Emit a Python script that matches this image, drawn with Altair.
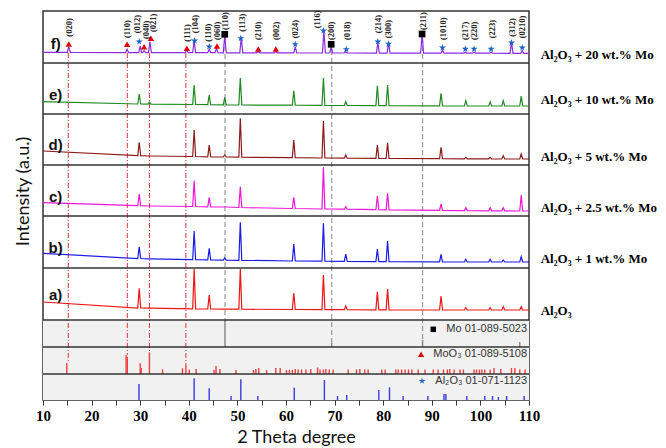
import altair as alt
import pandas as pd

# ---------------- axes / layout ----------------
X_DOMAIN = [10, 110]
Y_DOMAIN = [0, 389]          # stacked panels, 1 unit ~ 1 px
X_TICKS = list(range(10, 111, 5))

PANELS = ["f", "e", "d", "c", "b", "a", "Mo", "MoO3", "Al2O3"]
PANEL_BOTTOM = [337, 286, 235, 184, 132, 80, 53, 26, 0]
PANEL_TOP = [389, 337, 286, 235, 184, 132, 80, 53, 26]
BOTTOM = dict(zip(PANELS, PANEL_BOTTOM))

# ---------------- sample patterns ----------------
SAMPLES = ["f", "e", "d", "c", "b", "a"]
SAMPLE_COLORS = ["#8a2be2", "#1f8a1f", "#8b1a1a", "#ee14d8", "#1a1ae6", "#f01414"]
SAMPLE_NAMES = ["Al₂O₃ + 20 wt.% Mo", "Al₂O₃ + 10 wt.% Mo", "Al₂O₃ + 5 wt.% Mo",
                "Al₂O₃ + 2.5 wt.% Mo", "Al₂O₃ + 1 wt.% Mo", "Al₂O₃"]
NAME_Y = [345, 300, 243, 192, 141, 89]
LETTER_Y = [356, 305, 255, 203, 152, 105]

# peak positions shared by samples a-e (2theta)
AL_POS = [29.8, 31.9, 41.1, 44.2, 47.4, 50.6, 61.6, 67.7, 72.3, 78.8, 80.9, 91.9, 97.0, 102.0, 104.7, 108.4]

A_START, A_END = 18, 10
A_FOOT = [12, 11.8, 11.2, 11, 10.9, 10.8, 10.5, 10.4, 10.3, 10.2, 10.2, 10, 10, 10, 10, 10]
A_TOP = [31.7, 11.8, 51, 25, 10.9, 51, 27, 45, 14, 28.3, 31, 24, 12.3, 12.3, 13.3, 13.3]

B_START, B_END = 14.7, 6
B_FOOT = [9.5, 9.2, 8.3, 8.1, 7.9, 7.7, 7, 6.8, 6.6, 6.4, 6.3, 6.2, 6, 6, 6, 6]
B_TOP = [21.3, 9.2, 37, 19.7, 10, 45.7, 24, 44.7, 14, 19, 27, 13.7, 8.7, 8.7, 8, 11.3]

C_START, C_END = 13.3, 5
C_FOOT = [10.3, 10, 9.5, 9.2, 9, 8.5, 7.5, 7, 6.8, 6.3, 6.1, 5.6, 5.4, 5.2, 5.1, 5]
C_TOP = [22, 10, 35.3, 18.7, 9, 29.3, 18.7, 48.7, 9.3, 20, 22.7, 12, 8.3, 8.3, 8.3, 21]

D_START, D_END = 14, 6
D_FOOT = [9.3, 9, 8.5, 8.2, 8, 7.8, 7.3, 7, 6.8, 6.6, 6.5, 6.3, 6.2, 6.1, 6, 6]
D_TOP = [22.7, 9, 35, 20, 10, 46.7, 25, 44, 10, 20, 22.3, 17.7, 7.7, 7.7, 9.3, 11]

E_START, E_END = 12.3, 8
E_FOOT = [10, 9.8, 9.5, 9.3, 9.2, 9, 8.8, 8.6, 8.5, 8.3, 8.3, 8.1, 8, 8, 8, 8]
E_TOP = [20, 12, 29, 19, 16.7, 36, 23.3, 36, 12.3, 28.3, 29, 20.7, 13.3, 12, 13.3, 18]

F_START, F_END = 10.7, 9.7
F_POS = [15.3, 27.3, 30.0, 30.8, 32.0, 39.6, 41.1, 44.2, 45.7, 47.4, 50.8, 54.3, 57.9,
         61.9, 67.8, 69.3, 72.3, 78.9, 81.1, 88.0, 92.2, 96.9, 98.7, 102.2, 106.4, 108.6]
F_FOOT = [10.6, 10.4, 10.4, 10.4, 10.4, 10.3, 10.3, 10.3, 10.3, 10.2, 10.2, 10.2, 10.1,
          10.1, 10, 10, 10, 9.9, 9.9, 9.9, 9.8, 9.8, 9.8, 9.8, 9.7, 9.7]
F_TOP = [16.3, 13.7, 17, 12.5, 21.3, 13, 22.3, 13.7, 14.7, 28, 26.3, 11.5, 11.5,
         16.3, 32, 16, 11.5, 20.3, 20.3, 29, 13, 11, 11, 11, 21.3, 12.5]

PEAK_HALF_WIDTH = 0.3

# ---------------- phase markers in panel f ----------------
TRI_X = [15.3, 27.3, 30.8, 32.2, 39.6, 45.8, 54.3, 57.9]
TRI_H = [19, 18.7, 16.3, 24.7, 14.7, 17, 14, 14]
STAR_X = [29.8, 41.2, 44.2, 50.7, 61.9, 67.7, 72.4, 78.9, 81.1, 92.2, 96.9, 98.7, 102.2, 106.4, 108.6]
STAR_H = [21.3, 22.3, 16.3, 24.7, 18.7, 32.3, 13.7, 21.3, 19, 15.3, 14, 14, 14, 20.3, 15.3]
SQ_X = [47.4, 69.3, 88.0]
SQ_H = [28.7, 18.7, 29]

HKL_TEXT = ["(020)", "(110)", "(012)", "(040)", "(021)", "(111)", "(104)", "(110)", "(060)",
            "(110)", "(113)", "(210)", "(002)", "(024)", "(116)", "(200)", "(018)", "(214)",
            "(300)", "(211)", "(1010)", "(217)", "(220)", "(223)", "(312)", "(0210)"]
HKL_X = [15.3, 27.3, 29.3, 31.2, 32.7, 39.6, 41.3, 44.0, 45.7, 47.45, 50.9, 54.3, 57.9,
         61.85, 66.3, 69.25, 72.5, 78.9, 81.05, 88.1, 92.25, 96.8, 98.75, 102.3, 106.4, 108.5]
HKL_H = [26.3, 25, 29.7, 24, 31, 21.3, 29.7, 21.3, 23, 33, 31.3, 23, 23, 24.7, 34.7, 23,
         23, 29.7, 24.7, 33, 23, 23, 23, 24.7, 26.3, 24.7]

# ---------------- guide lines ----------------
RED_X = [15.2, 27.35, 31.9, 39.4]
RED_Y1 = [347, 347, 347, 347]
RED_Y2 = [37, 45, 48, 36]
GRAY_X = [47.45, 69.4, 88.1]
GRAY_Y1 = [362, 350, 362]
GRAY_Y2 = [78, 53, 60]

# ---------------- reference patterns ----------------
MO_X = [47.45, 69.4, 88.1, 108.1]
MO_H = [26.5, 4, 7, 5]

MOO3_X = [14.9, 27.1, 27.35, 30.0, 30.2, 31.9, 34.6, 38.7, 39.4, 40.1,
          41.5, 45.2, 45.6, 46.4, 49.7, 53.3, 53.8, 54.4, 56.0, 57.9,
          58.8, 60.1, 60.7, 61.3, 61.9, 62.5, 63.2, 64.1, 65.1, 66.5,
          67.0, 67.7, 68.2, 68.9, 69.7, 72.8, 74.5, 75.2, 76.2, 76.9,
          79.7, 80.4, 82.6, 83.1, 83.8, 84.5, 85.2, 85.9, 87.2, 88.6,
          90.3, 91.3, 92.4, 93.2, 93.7, 94.6, 95.8, 96.5, 98.7, 99.2,
          99.8, 100.3, 100.9, 102.0, 102.8, 104.2, 106.4, 107.1, 108.1, 109.2]
MOO3_H = [11, 19, 17, 10.7, 6, 21.7, 4.7, 5.7, 9.7, 4.5,
          5, 4, 8, 5, 4, 4, 5, 6, 4, 6,
          6, 4, 4, 4, 5, 4.5, 4.5, 4.5, 5, 6.5,
          4.5, 4.5, 5, 4.5, 4.5, 4.5, 4.5, 5, 4.5, 4.5,
          4.5, 4.5, 4.5, 4.5, 4.5, 4.5, 4.5, 4.5, 4.5, 4.5,
          4.5, 4.5, 4.5, 4.5, 5, 4.5, 4.5, 4.5, 4.5, 4.5,
          4.5, 4.5, 4.5, 4.5, 6, 5, 6, 6, 4.5, 4.5]

AL_REF_X = [29.75, 41.1, 44.2, 48.7, 50.7, 54.2, 61.7, 67.9, 70.6, 72.5, 79.1,
            81.3, 84.1, 89.2, 92.5, 92.9, 97.2, 100.9, 102.5, 103.7, 105.4, 109.0]
AL_REF_H = [16, 21.7, 11.7, 4, 20.7, 4, 12.3, 20, 4, 5, 10,
            12.7, 4, 4, 6, 6, 4, 4, 4, 3, 4, 4]

LEG_TEXT = ["Mo 01-089-5023", "MoO₃ 01-089-5108", "Al₂O₃ 01-071-1123"]
LEG_Y = [70.7, 45.7, 19]
LEG_MARK_X = [90.3, 87.8, 88.0]

STAR_PATH = ("M0,-1L0.2245,-0.309L0.951,-0.309L0.363,0.118L0.588,0.809L0,0.382"
             "L-0.588,0.809L-0.363,0.118L-0.951,-0.309L-0.2245,-0.309Z")

# ---------------- build tables ----------------
def pattern(name, start, end, pos, foot, top):
    b = BOTTOM[name]
    pts = [(X_DOMAIN[0], b + start)]
    for p, ft, tp in zip(pos, foot, top):
        pts += [(p - PEAK_HALF_WIDTH, b + ft), (p, b + tp), (p + PEAK_HALF_WIDTH, b + ft)]
    pts.append((X_DOMAIN[1], b + end))
    return [{"x": x, "y": y, "sample": name, "i": i} for i, (x, y) in enumerate(pts)]

rows = []
rows += pattern("f", F_START, F_END, F_POS, F_FOOT, F_TOP)
rows += pattern("e", E_START, E_END, AL_POS, E_FOOT, E_TOP)
rows += pattern("d", D_START, D_END, AL_POS, D_FOOT, D_TOP)
rows += pattern("c", C_START, C_END, AL_POS, C_FOOT, C_TOP)
rows += pattern("b", B_START, B_END, AL_POS, B_FOOT, B_TOP)
rows += pattern("a", A_START, A_END, AL_POS, A_FOOT, A_TOP)
lines_df = pd.DataFrame(rows)

def sticks(name, xs, hs):
    b = BOTTOM[name]
    return pd.DataFrame({"x": xs, "y": [b] * len(xs), "y2": [b + h for h in hs]})

fb = BOTTOM["f"]
tri_df = pd.DataFrame({"x": TRI_X, "y": [fb + h for h in TRI_H]})
star_df = pd.DataFrame({"x": STAR_X, "y": [fb + h for h in STAR_H]})
sq_df = pd.DataFrame({"x": SQ_X, "y": [fb + h for h in SQ_H]})
hkl_df = pd.DataFrame({"x": HKL_X, "y": [fb + h for h in HKL_H], "t": HKL_TEXT})
red_df = pd.DataFrame({"x": RED_X, "y": RED_Y1, "y2": RED_Y2})
gray_df = pd.DataFrame({"x": GRAY_X, "y": GRAY_Y1, "y2": GRAY_Y2})
ref_bg = pd.DataFrame({"x": [10] * 3, "x2": [110] * 3,
                       "y": PANEL_BOTTOM[6:], "y2": PANEL_TOP[6:]})
sep_df = pd.DataFrame({"x": [10] * 8, "x2": [110] * 8, "y": PANEL_BOTTOM[:8]})
letter_df = pd.DataFrame({"x": [12.6] * 6, "y": LETTER_Y, "t": [s + ")" for s in SAMPLES]})
name_df = pd.DataFrame({"x": [112.4] * 6, "y": NAME_Y, "t": SAMPLE_NAMES})
leg_df = pd.DataFrame({"x": [109.6] * 3, "y": LEG_Y, "t": LEG_TEXT})

# ---------------- encodings ----------------
X_AXIS = alt.Axis(title="2 Theta degree", values=X_TICKS,
                  labelExpr="datum.value % 10 === 0 ? datum.label : ''",
                  grid=False, domain=False, tickSize=5, tickColor="#333", tickWidth=1,
                  labelFont="Liberation Serif", labelFontWeight="bold", labelFontSize=15,
                  labelColor="#000", labelPadding=3, labelFlush=False, labelOverlap=False,
                  titleFont="Lato", titleFontSize=18, titleFontWeight="normal",
                  titleColor="#111", titleX=253, titleY=37, titleBaseline="middle",
                  titleAlign="center")
Y_AXIS = alt.Axis(title="Intensity (a.u.)", labels=False, ticks=False, domain=False,
                  grid=False, titleFont="Lato", titleFontSize=18, titleFontWeight="normal",
                  titleColor="#111", titleX=-20, titleY=180, titleAngle=270,
                  titleAlign="center", titleBaseline="middle")
XS = alt.Scale(domain=X_DOMAIN, nice=False, zero=False)
YS = alt.Scale(domain=Y_DOMAIN, nice=False, zero=False)

def X(f="x"):
    return alt.X(f, type="quantitative", scale=XS, axis=X_AXIS)

def Y(f="y"):
    return alt.Y(f, type="quantitative", scale=YS, axis=Y_AXIS)

bg = alt.Chart(ref_bg).mark_rect(color="#f1f1f1").encode(x=X(), x2="x2", y=Y(), y2="y2")

red_lines = alt.Chart(red_df).mark_rule(color="#e83030", strokeWidth=1,
                                        strokeDash=[5, 2, 1, 2]).encode(x=X(), y=Y(), y2="y2")
gray_lines = alt.Chart(gray_df).mark_rule(color="#9a9a9a", strokeWidth=1.2,
                                          strokeDash=[5, 3]).encode(x=X(), y=Y(), y2="y2")

patterns = alt.Chart(lines_df).mark_line(strokeWidth=1.2).encode(
    x=X(), y=Y(), order="i:Q",
    color=alt.Color("sample:N", scale=alt.Scale(domain=SAMPLES, range=SAMPLE_COLORS), legend=None))

mo_st = alt.Chart(sticks("Mo", MO_X, MO_H)).mark_rule(color="#8a8a8a", strokeWidth=1.5).encode(
    x=X(), y=Y(), y2="y2")
moo3_st = alt.Chart(sticks("MoO3", MOO3_X, MOO3_H)).mark_rule(color="#f04040", strokeWidth=1.4).encode(
    x=X(), y=Y(), y2="y2")
al_st = alt.Chart(sticks("Al2O3", AL_REF_X, AL_REF_H)).mark_rule(color="#3a3ae0", strokeWidth=1.4).encode(
    x=X(), y=Y(), y2="y2")

seps = alt.Chart(sep_df).mark_rule(color="#333", strokeWidth=1.5).encode(x=X(), x2="x2", y=Y())

tri = alt.Chart(tri_df).mark_point(shape="triangle-up", filled=True, size=42, color="#e00000",
                                   opacity=1).encode(x=X(), y=Y())
star = alt.Chart(star_df).mark_point(shape=STAR_PATH, filled=True, size=55, color="#1c64c8",
                                     opacity=1).encode(x=X(), y=Y())
sq = alt.Chart(sq_df).mark_point(shape="square", filled=True, size=45, color="#000",
                                 opacity=1).encode(x=X(), y=Y())

hkl = alt.Chart(hkl_df).mark_text(angle=270, align="left", baseline="middle",
                                  font="Liberation Serif", fontWeight="bold", fontSize=8.5,
                                  color="#222").encode(x=X(), y=Y(), text="t:N")

letters = alt.Chart(letter_df).mark_text(font="Liberation Sans", fontWeight="bold", fontSize=15,
                                         align="center", baseline="middle",
                                         color="#111").encode(x=X(), y=Y(), text="t:N")

names = alt.Chart(name_df).mark_text(font="Liberation Serif", fontWeight="bold", fontSize=13,
                                     align="left", baseline="middle",
                                     color="#000").encode(x=X(), y=Y(), text="t:N")

leg_text = alt.Chart(leg_df).mark_text(font="Liberation Sans", fontSize=11, align="right",
                                       baseline="middle", color="#333").encode(
    x=X(), y=Y(), text="t:N")
leg_sq = alt.Chart(pd.DataFrame({"x": [LEG_MARK_X[0]], "y": [LEG_Y[0]]})).mark_point(
    shape="square", filled=True, size=30, color="#000", opacity=1).encode(x=X(), y=Y())
leg_tri = alt.Chart(pd.DataFrame({"x": [LEG_MARK_X[1]], "y": [LEG_Y[1]]})).mark_point(
    shape="triangle-up", filled=True, size=40, color="#e00000", opacity=1).encode(x=X(), y=Y())
leg_star = alt.Chart(pd.DataFrame({"x": [LEG_MARK_X[2]], "y": [LEG_Y[2]]})).mark_point(
    shape=STAR_PATH, filled=True, size=50, color="#1c64c8", opacity=1).encode(x=X(), y=Y())

chart = alt.layer(
    bg, red_lines, gray_lines, patterns, mo_st, moo3_st, al_st, seps,
    tri, star, sq, hkl, letters, names, leg_text, leg_sq, leg_tri, leg_star
).properties(
    width=486, height=389,
    padding={"left": 35, "top": 3, "right": 129, "bottom": 48},
    autosize=alt.AutoSizeParams(type="none"),
    background="white",
).configure_view(stroke="#333", strokeWidth=1.5, fill="white")

chart.save("out.html", embed_options={"renderer": "svg", "actions": False})
